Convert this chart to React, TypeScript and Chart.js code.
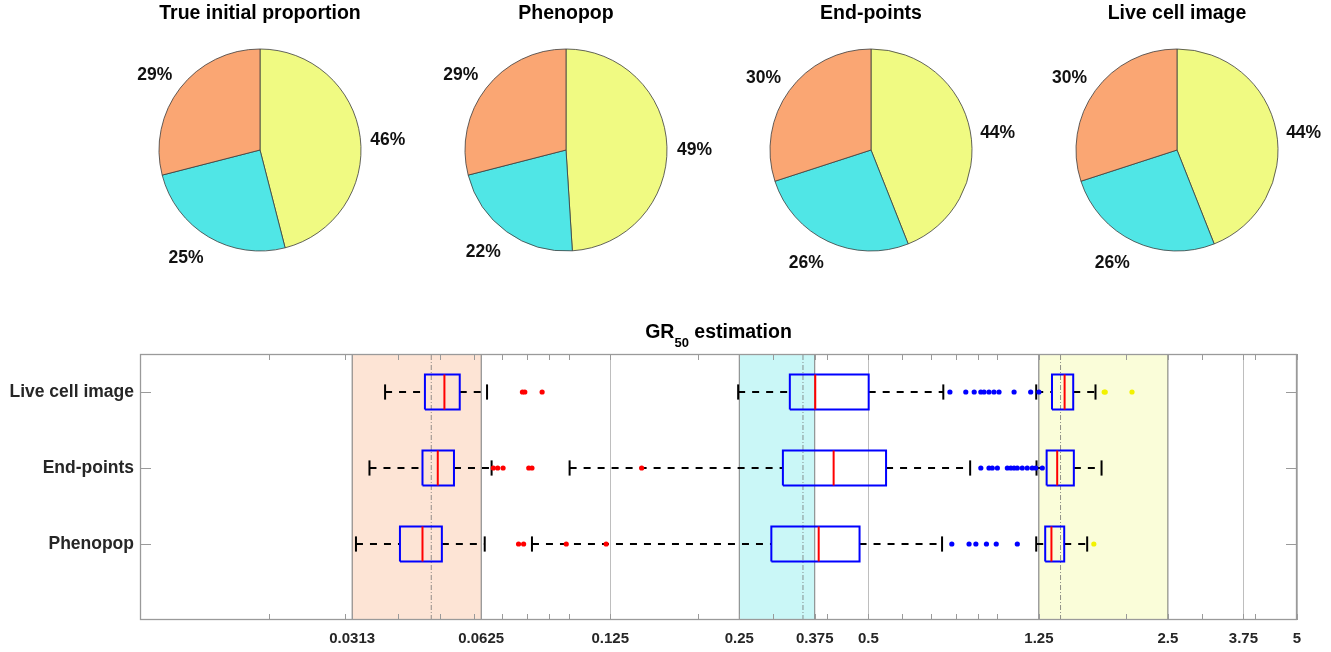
import React, { useEffect, useRef } from "react";
import { Chart, registerables } from "chart.js";

Chart.register(...registerables);

// ---------------- data ----------------
const SUBPOPULATIONS = ["Sensitive", "Moderate", "Resistant"];
const PIE_TITLES = ["True initial proportion", "Phenopop", "End-points", "Live cell image"];
const PIE_SENSITIVE = [46, 49, 44, 44];
const PIE_MODERATE = [25, 22, 26, 26];
const PIE_RESISTANT = [29, 29, 30, 30];

const METHODS = ["Phenopop", "End-points", "Live cell image"]; // y = 1, 2, 3

// [lower whisker, q1, median, q3, upper whisker] per subpopulation
const PHENOPOP_STATS = [
  [0.0319, 0.0404, 0.0456, 0.0506, 0.0637],
  [0.0821, 0.297, 0.383, 0.477, 0.743],
  [1.232, 1.293, 1.337, 1.432, 1.62],
];
const ENDPOINTS_STATS = [
  [0.0343, 0.0456, 0.0495, 0.054, 0.0661],
  [0.1005, 0.316, 0.415, 0.55, 0.864],
  [1.234, 1.303, 1.379, 1.508, 1.75],
];
const LIVECELL_STATS = [
  [0.0373, 0.0462, 0.0513, 0.0557, 0.0645],
  [0.2485, 0.328, 0.376, 0.501, 0.748],
  [1.232, 1.341, 1.435, 1.503, 1.694],
];

// outliers per subpopulation
const PHENOPOP_OUTLIERS = [
  [0.0764, 0.0785, 0.0987, 0.1223],
  [0.783, 0.859, 0.891, 0.943, 0.994, 1.113],
  [1.679],
];
const ENDPOINTS_OUTLIERS = [
  [0.0667, 0.0683, 0.0703, 0.0807, 0.0821, 0.148],
  [0.915, 0.956, 0.973, 1.0, 1.055, 1.075, 1.094, 1.113, 1.143, 1.174, 1.206, 1.229, 1.273],
  [],
];
const LIVECELL_OUTLIERS = [
  [0.078, 0.079, 0.0867],
  [0.775, 0.844, 0.883, 0.915, 0.931, 0.956, 0.982, 1.009, 1.094, 1.196, 1.25],
  [1.775, 1.785, 2.061],
];

const TRUE_GR50 = [0.0478, 0.352, 1.404];
const GR50_RANGE_LOW = [0.03125, 0.25, 1.25];
const GR50_RANGE_HIGH = [0.0625, 0.375, 2.5];

const X_MIN = 0.01;
const X_MAX = 5;
const Y_MIN = 0;
const Y_MAX = 3.5;
const X_TICKS = [0.03125, 0.0625, 0.125, 0.25, 0.375, 0.5, 1.25, 2.5, 3.75, 5];
const X_TICK_LABELS = ["0.0313", "0.0625", "0.125", "0.25", "0.375", "0.5", "1.25", "2.5", "3.75", "5"];
const X_MINOR_TICKS = [
  0.02, 0.03, 0.04, 0.05, 0.06, 0.07, 0.08, 0.09, 0.1,
  0.2, 0.3, 0.4, 0.6, 0.7, 0.8, 0.9, 1, 2, 3, 4,
];

// ---------------- styles ----------------
const FONT = '"Liberation Sans", Arial, Helvetica, sans-serif';
const PIE_COLORS = ["#F0FA82", "#50E6E6", "#FAA673"];
const REGION_FILLS = ["rgba(250,166,115,0.3)", "rgba(80,230,230,0.3)", "rgba(240,250,130,0.3)"];
const OUTLIER_COLORS = ["#FF0000", "#0000FF", "#F2F200"];
const BOX_COLOR = "#0000FF";
const MEDIAN_COLOR = "#FF0000";
const WHISKER_COLOR = "#000000";
const GRID_COLOR = "#BEBEBE";
const FRAME_COLOR = "#9A9A9A";
const REGION_EDGE = "#8A8A8A";
const TRUE_LINE_COLOR = "rgba(110,110,110,0.75)";
const BOX_HALF = 0.23;
const CAP_HALF = 0.1;
const PIE_CENTERS = [260.3, 565.8, 871.3, 1176.8];
const PIE_W = 304;
const PIE_H = 290;

// ---------------- pie charts ----------------
const pctLabels = {
  id: "pctLabels",
  afterDatasetsDraw(chart: any) {
    const meta = chart.getDatasetMeta(0);
    const values = chart.data.datasets[0].data as number[];
    const ctx = chart.ctx;
    ctx.save();
    ctx.font = `bold 17.5px ${FONT}`;
    ctx.fillStyle = "#111";
    meta.data.forEach((arc: any, i: number) => {
      const p = arc.getProps(["x", "y", "startAngle", "endAngle", "outerRadius"], true);
      const mid = (p.startAngle + p.endAngle) / 2;
      const c = Math.cos(mid);
      const s = Math.sin(mid);
      const r = p.outerRadius * 1.1;
      ctx.textAlign = Math.abs(c) < 0.1 ? "center" : c > 0 ? "left" : "right";
      let dy = 4;
      if (Math.abs(s) < 0.3) ctx.textBaseline = "middle";
      else if (s < 0) {
        ctx.textBaseline = "bottom";
        dy = 2;
      } else ctx.textBaseline = "top";
      ctx.fillText(`${values[i]}%`, p.x + c * r, p.y + s * r + dy);
    });
    ctx.restore();
  },
};

function PieChart({ index }: { index: number }) {
  const ref = useRef<HTMLCanvasElement>(null);
  useEffect(() => {
    const chart = new Chart(ref.current as HTMLCanvasElement, {
      type: "pie",
      data: {
        labels: SUBPOPULATIONS,
        datasets: [
          {
            data: [PIE_SENSITIVE[index], PIE_MODERATE[index], PIE_RESISTANT[index]],
            backgroundColor: PIE_COLORS,
            borderColor: "#3C3C3C",
            borderWidth: 0.8,
            radius: 101,
          } as any,
        ],
      },
      options: {
        responsive: false,
        animation: false,
        events: [],
        layout: { padding: { top: 0, bottom: 25.4, left: 0, right: 0 } },
        plugins: {
          legend: { display: false },
          tooltip: { enabled: false },
          title: {
            display: true,
            text: PIE_TITLES[index],
            color: "#000",
            font: { family: FONT, size: 19.5, weight: "bold" },
            padding: { top: 2, bottom: 10 },
          },
        },
      } as any,
      plugins: [pctLabels],
    });
    return () => chart.destroy();
  }, [index]);
  return (
    <canvas
      ref={ref}
      width={PIE_W}
      height={PIE_H}
      style={{ position: "absolute", left: PIE_CENTERS[index] - PIE_W / 2, top: 0, width: PIE_W, height: PIE_H }}
    />
  );
}

// ---------------- box plot ----------------
function seg(points: { x: number; y: number }[], color: string, width: number, order: number, dash: number[] = []) {
  return {
    type: "line",
    data: points,
    borderColor: color,
    borderWidth: width,
    borderDash: dash,
    borderCapStyle: "butt",
    pointRadius: 0,
    fill: false,
    tension: 0,
    order,
  };
}

function buildDatasets() {
  const ds: any[] = [];
  // shaded GR50 ranges
  GR50_RANGE_LOW.forEach((lo, g) => {
    const hi = GR50_RANGE_HIGH[g];
    ds.push({
      type: "line",
      data: [{ x: lo, y: Y_MAX }, { x: hi, y: Y_MAX }],
      backgroundColor: REGION_FILLS[g],
      borderWidth: 0,
      pointRadius: 0,
      fill: "start",
      order: 100,
    });
    ds.push(seg([{ x: lo, y: Y_MIN }, { x: lo, y: Y_MAX }], REGION_EDGE, 1, 90));
    ds.push(seg([{ x: hi, y: Y_MIN }, { x: hi, y: Y_MAX }], REGION_EDGE, 1, 90));
  });
  // true GR50 lines
  TRUE_GR50.forEach((v) => {
    ds.push(seg([{ x: v, y: Y_MIN }, { x: v, y: Y_MAX }], TRUE_LINE_COLOR, 1, 80, [5, 2, 1, 2]));
  });
  const stats = [PHENOPOP_STATS, ENDPOINTS_STATS, LIVECELL_STATS];
  const outliers = [PHENOPOP_OUTLIERS, ENDPOINTS_OUTLIERS, LIVECELL_OUTLIERS];
  stats.forEach((groups, m) => {
    const y = m + 1;
    groups.forEach(([lw, q1, med, q3, uw], g) => {
      // whiskers
      ds.push(seg([{ x: lw, y }, { x: q1, y }], WHISKER_COLOR, 2, 50, [7, 7]));
      ds.push(seg([{ x: q3, y }, { x: uw, y }], WHISKER_COLOR, 2, 50, [7, 7]));
      ds.push(seg([{ x: lw, y: y - CAP_HALF }, { x: lw, y: y + CAP_HALF }], WHISKER_COLOR, 2, 50));
      ds.push(seg([{ x: uw, y: y - CAP_HALF }, { x: uw, y: y + CAP_HALF }], WHISKER_COLOR, 2, 50));
      // box
      ds.push(
        seg(
          [
            { x: q1, y: y - BOX_HALF },
            { x: q3, y: y - BOX_HALF },
            { x: q3, y: y + BOX_HALF },
            { x: q1, y: y + BOX_HALF },
            { x: q1, y: y - BOX_HALF },
          ],
          BOX_COLOR,
          2,
          40
        )
      );
      // median
      ds.push(seg([{ x: med, y: y - BOX_HALF }, { x: med, y: y + BOX_HALF }], MEDIAN_COLOR, 2, 30));
      // outliers
      const outs = outliers[m][g];
      if (outs.length) {
        ds.push({
          type: "line",
          data: outs.map((x) => ({ x, y })),
          showLine: false,
          pointRadius: 2.6,
          pointBackgroundColor: OUTLIER_COLORS[g],
          pointBorderWidth: 0,
          borderColor: OUTLIER_COLORS[g],
          order: 20,
        });
      }
    });
  });
  return ds;
}

const framePlugin = {
  id: "frame",
  afterDatasetsDraw(chart: any) {
    const { ctx, chartArea: a, scales } = chart;
    const x = scales.x;
    const y = scales.y;
    ctx.save();
    ctx.strokeStyle = FRAME_COLOR;
    ctx.lineWidth = 1;
    ctx.beginPath();
    x.ticks.forEach((t: any) => {
      const px = Math.round(x.getPixelForValue(t.value)) + 0.5;
      ctx.moveTo(px, a.bottom);
      ctx.lineTo(px, a.bottom - 6);
      ctx.moveTo(px, a.top);
      ctx.lineTo(px, a.top + 6);
    });
    y.ticks.forEach((t: any) => {
      const py = Math.round(y.getPixelForValue(t.value)) + 0.5;
      ctx.moveTo(a.left, py);
      ctx.lineTo(a.left + 11, py);
      ctx.moveTo(a.right, py);
      ctx.lineTo(a.right - 11, py);
    });
    ctx.stroke();
    ctx.lineWidth = 1.3;
    ctx.strokeRect(a.left + 0.5, a.top + 0.5, a.right - a.left - 1, a.bottom - a.top - 1);
    ctx.restore();
  },
};

function BoxChart() {
  const ref = useRef<HTMLCanvasElement>(null);
  useEffect(() => {
    const allTicks = [...X_TICKS, ...X_MINOR_TICKS].sort((p, q) => p - q);
    const chart = new Chart(ref.current as HTMLCanvasElement, {
      type: "line",
      data: { datasets: buildDatasets() },
      options: {
        responsive: false,
        animation: false,
        events: [],
        layout: { padding: { top: 54, right: 34, bottom: 0, left: 0 } },
        plugins: { legend: { display: false }, tooltip: { enabled: false }, title: { display: false } },
        scales: {
          x: {
            type: "logarithmic",
            min: X_MIN,
            max: X_MAX,
            afterBuildTicks: (s: any) => {
              s.ticks = allTicks.map((v) => ({ value: v }));
            },
            afterFit: (s: any) => {
              s.height = 32;
            },
            ticks: {
              autoSkip: false,
              maxRotation: 0,
              minRotation: 0,
              padding: 10,
              color: "#262626",
              font: { family: FONT, size: 15, weight: "bold" },
              callback: (v: any) => {
                const i = X_TICKS.indexOf(Number(v));
                return i >= 0 ? X_TICK_LABELS[i] : "";
              },
            },
            grid: {
              drawTicks: false,
              lineWidth: 1,
              color: (c: any) => (c.tick && X_TICKS.includes(c.tick.value) ? GRID_COLOR : "rgba(0,0,0,0)"),
            },
            border: { display: false },
          },
          y: {
            type: "linear",
            min: Y_MIN,
            max: Y_MAX,
            afterBuildTicks: (s: any) => {
              s.ticks = METHODS.map((_, i) => ({ value: i + 1 }));
            },
            afterFit: (s: any) => {
              s.width = 140;
            },
            ticks: {
              padding: 6,
              color: "#262626",
              font: { family: FONT, size: 17.5, weight: "bold" },
              callback: (v: any) => METHODS[Number(v) - 1] ?? "",
            },
            grid: { display: false, drawTicks: false },
            border: { display: false },
          },
        },
      } as any,
      plugins: [framePlugin],
    });
    return () => chart.destroy();
  }, []);
  return (
    <canvas
      ref={ref}
      width={1331}
      height={352}
      style={{ position: "absolute", left: 0, top: 300, width: 1331, height: 352 }}
    />
  );
}

export default function App() {
  return (
    <div
      style={{
        position: "absolute",
        left: 0,
        top: 0,
        width: 1331,
        height: 652,
        background: "#fff",
        overflow: "hidden",
        fontFamily: FONT,
      }}
    >
      {PIE_TITLES.map((_, i) => (
        <PieChart key={i} index={i} />
      ))}
      <BoxChart />
      <div
        style={{
          position: "absolute",
          left: 418.5,
          top: 318.5,
          width: 600,
          textAlign: "center",
          fontFamily: FONT,
          fontWeight: "bold",
          fontSize: 19.5,
          lineHeight: "24px",
          color: "#000",
          whiteSpace: "nowrap",
        }}
      >
        GR<span style={{ fontSize: 13, position: "relative", top: 9 }}>50</span> estimation
      </div>
    </div>
  );
}
